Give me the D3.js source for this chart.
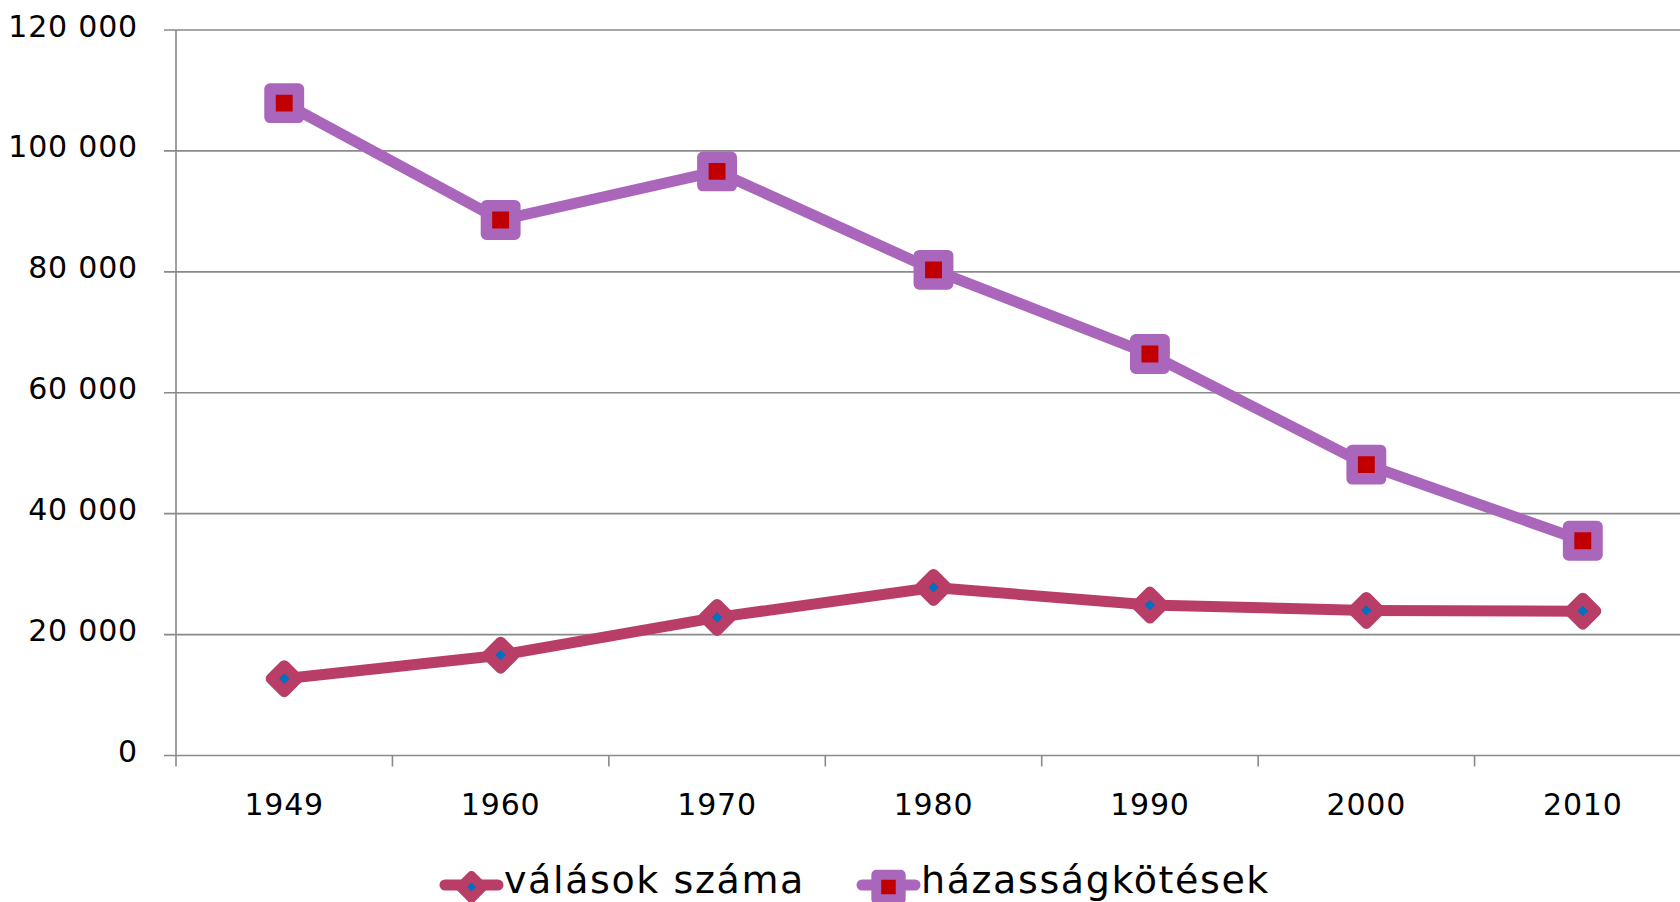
<!DOCTYPE html>
<html>
<head>
<meta charset="utf-8">
<script src="https://cdn.jsdelivr.net/npm/d3@7"></script>
<style>
  html, body { margin: 0; padding: 0; background: #fff; overflow: hidden; }
  svg { display: block; }
  text { font-family: "DejaVu Sans", sans-serif; fill: #000; }
</style>
</head>
<body>
<svg id="chart" width="1680" height="902"></svg>
<script>
// years on the category axis
const years = ["1949", "1960", "1970", "1980", "1990", "2000", "2010"]
// divorces
const valasok = [12700, 16590, 22841, 27797, 24888, 23987, 23873]
// marriages
const hazassagok = [107900, 88566, 96612, 80331, 66405, 48110, 35520]
const yTicks = [0, 20000, 40000, 60000, 80000, 100000, 120000]
const seriesNames = ["válások száma", "házasságkötések"]

const width = 1680
const height = 902
const margin = {left: 176, top: 30, right: -11, bottom: 146.5}

const lineColors = ["#b93e67", "#aa66bb"]
const innerColors = ["#0070c0", "#c00000"]

const svg = d3.select("#chart")

const locale = d3.formatLocale({decimal: ",", thousands: " ", grouping: [3]})
const fmt = locale.format(",d")

const xScale = d3.scaleBand()
  .domain(years)
  .range([margin.left, width - margin.right])
  .padding(0)

const yScale = d3.scaleLinear()
  .domain([0, 120000])
  .range([height - margin.bottom, margin.top])

// gridlines
svg.append("g")
  .selectAll("line")
  .data(yTicks)
  .join("line")
  .attr("x1", margin.left - 12)
  .attr("x2", width)
  .attr("y1", d => yScale(d))
  .attr("y2", d => yScale(d))
  .attr("stroke", "#8a8a8a")
  .attr("stroke-width", 1.6)

// y axis line
svg.append("line")
  .attr("x1", margin.left).attr("x2", margin.left)
  .attr("y1", yScale(120000)).attr("y2", yScale(0) + 11)
  .attr("stroke", "#8a8a8a")
  .attr("stroke-width", 1.6)

// y labels
svg.append("g")
  .selectAll("text")
  .data(yTicks)
  .join("text")
  .attr("x", 138)
  .attr("y", d => yScale(d) + 6.5)
  .attr("text-anchor", "end")
  .attr("font-size", 30)
  .attr("letter-spacing", 0.8)
  .text(d => fmt(d))

// x axis ticks at band edges
const edges = years.map(y => xScale(y)).concat([xScale(years[years.length - 1]) + xScale.bandwidth()])
svg.append("g")
  .selectAll("line")
  .data(edges.slice(1))
  .join("line")
  .attr("x1", d => d).attr("x2", d => d)
  .attr("y1", yScale(0)).attr("y2", yScale(0) + 11)
  .attr("stroke", "#8a8a8a")
  .attr("stroke-width", 1.6)

// x labels
svg.append("g")
  .selectAll("text")
  .data(years)
  .join("text")
  .attr("x", d => xScale(d) + xScale.bandwidth() / 2)
  .attr("y", 815)
  .attr("text-anchor", "middle")
  .attr("font-size", 30)
  .attr("letter-spacing", 0.8)
  .text(d => d)

const line = d3.line()
  .x((d, i) => xScale(years[i]) + xScale.bandwidth() / 2)
  .y(d => yScale(d))

function diamond(g, cx, cy, k) {
  const d = 13 * k
  g.append("path")
    .attr("d", `M${cx},${cy - d}L${cx + d},${cy}L${cx},${cy + d}L${cx - d},${cy}Z`)
    .attr("fill", innerColors[0])
    .attr("stroke", lineColors[0])
    .attr("stroke-width", 11 * k)
    .attr("stroke-linejoin", "round")
}

function square(g, cx, cy, k) {
  const h = 14.2 * k
  g.append("rect")
    .attr("x", cx - h).attr("y", cy - h)
    .attr("width", 2 * h).attr("height", 2 * h)
    .attr("fill", innerColors[1])
    .attr("stroke", lineColors[1])
    .attr("stroke-width", 11.5 * k)
    .attr("stroke-linejoin", "round")
}

const markers = [diamond, square]

;[valasok, hazassagok].forEach((values, s) => {
  const g = svg.append("g")
  g.append("path")
    .datum(values)
    .attr("d", line)
    .attr("fill", "none")
    .attr("stroke", lineColors[s])
    .attr("stroke-width", 11)
    .attr("stroke-linejoin", "round")
  values.forEach((v, i) => {
    markers[s](g, xScale(years[i]) + xScale.bandwidth() / 2, yScale(v), 1)
  })
})

// legend
const legendX = [440, 857]
const legendY = 885
seriesNames.forEach((name, s) => {
  const g = svg.append("g")
  g.append("line")
    .attr("x1", legendX[s] + 5).attr("x2", legendX[s] + 58)
    .attr("y1", legendY).attr("y2", legendY)
    .attr("stroke", lineColors[s])
    .attr("stroke-width", 11)
    .attr("stroke-linecap", "round")
  markers[s](g, legendX[s] + 31.5, legendY + 2, 0.86)
  g.append("text")
    .attr("x", legendX[s] + 64)
    .attr("y", 893)
    .attr("font-size", 38)
    .attr("letter-spacing", 1.6)
    .text(name)
})
</script>
</body>
</html>
